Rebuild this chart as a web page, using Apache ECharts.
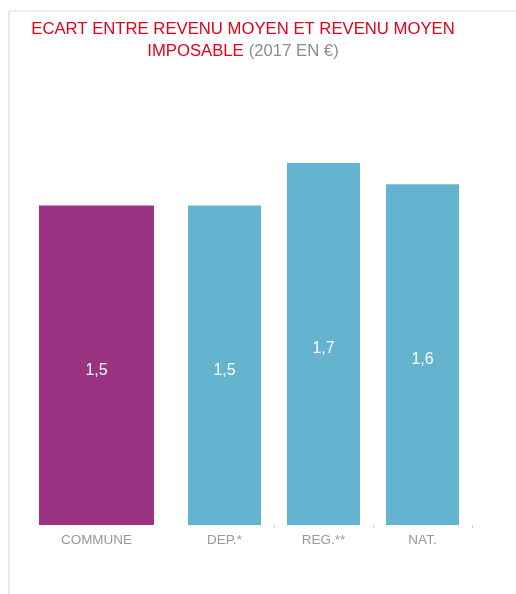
<!DOCTYPE html>
<html>
<head>
<meta charset="utf-8">
<script src="https://cdn.jsdelivr.net/npm/echarts@6/dist/echarts.min.js"></script>
<style>
  html, body { margin: 0; padding: 0; background: #fff; }
  #chart { width: 516px; height: 594px; }
</style>
</head>
<body>
<div id="chart"></div>
<script>
// commune on its own, the three reference levels next to it
const communeLabel = ['COMMUNE']
const communeValues = [1.5]
const refLabels = ['DEP.*', 'REG.**', 'NAT.']
const refValues = [1.5, 1.7, 1.6]

const font = '"Liberation Sans", Arial, Helvetica, sans-serif'
const fmt = (p) => String(p.value).replace('.', ',')

const chart = echarts.init(document.getElementById('chart'))

const valueLabel = {
  show: true,
  position: 'inside',
  offset: [0, 5],
  color: '#fff',
  fontSize: 16,
  fontFamily: font,
  formatter: fmt,
}

const catAxis = (data, gridIndex, showTicks) => ({
  type: 'category',
  gridIndex,
  data,
  axisLine: { show: false },
  axisTick: {
    show: showTicks,
    length: 3,
    lineStyle: { color: '#b9cde0' },
    interval: (i) => i > 0,
  },
  axisLabel: { color: '#999', fontSize: 13.5, fontFamily: font, margin: 8 },
})

const valAxis = (gridIndex) => ({
  type: 'value',
  gridIndex,
  min: 0,
  max: 2,
  show: false,
})

chart.setOption({
  animation: false,
  title: {
    left: 238,
    top: 13,
    textAlign: 'center',
    text: '{r|ECART ENTRE REVENU MOYEN ET REVENU MOYEN}\n{r|IMPOSABLE} {g|(2017 EN €)}',
    textStyle: {
      rich: {
        r: { color: '#e3001b', fontSize: 16.7, fontWeight: 'normal', fontFamily: font, lineHeight: 22 },
        g: { color: '#8c8c8c', fontSize: 16.7, fontWeight: 'normal', fontFamily: font, lineHeight: 22 },
      },
    },
  },
  graphic: [
    { type: 'line', shape: { x1: 9, y1: 11, x2: 9, y2: 594 }, style: { stroke: '#e8e8e8', lineWidth: 2 } },
    { type: 'line', shape: { x1: 9, y1: 11, x2: 516, y2: 11 }, style: { stroke: '#e8e8e8', lineWidth: 1.5 } },
  ],
  grid: [
    { left: 39, width: 115, top: 99, bottom: 69 },
    { left: 175, width: 297, top: 99, bottom: 69 },
  ],
  xAxis: [catAxis(communeLabel, 0, false), catAxis(refLabels, 1, true)],
  yAxis: [valAxis(0), valAxis(1)],
  series: [
    {
      type: 'bar',
      xAxisIndex: 0,
      yAxisIndex: 0,
      barWidth: 115,
      data: communeValues,
      itemStyle: { color: '#9b3282' },
      label: valueLabel,
    },
    {
      type: 'bar',
      xAxisIndex: 1,
      yAxisIndex: 1,
      barWidth: 73,
      data: refValues,
      itemStyle: { color: '#64b4d0' },
      label: valueLabel,
    },
  ],
})
</script>
</body>
</html>
